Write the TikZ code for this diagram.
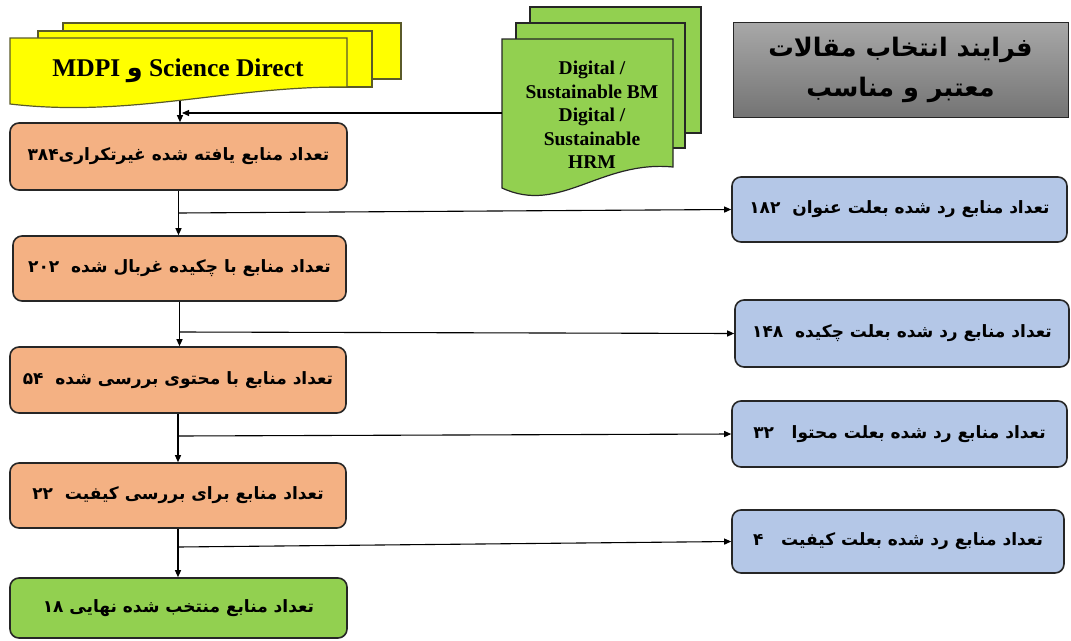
\documentclass[tikz,border=0pt]{standalone}
\usepackage{fontspec}
\setmainfont{Liberation Serif}
\newfontfamily\fa[Script=Arabic]{DejaVu Sans}
\TeXXeTstate=1
\usetikzlibrary{arrows.meta,calc}
\definecolor{orangebox}{HTML}{F4B183}
\definecolor{bluebox}{HTML}{B4C7E7}
\definecolor{greenbox}{HTML}{92D050}
\definecolor{yellowdoc}{HTML}{FFFF00}
\definecolor{edgecol}{HTML}{262626}
\definecolor{yedge}{HTML}{5A5A2A}
\definecolor{graytop}{HTML}{A8A8A8}
\definecolor{graybot}{HTML}{747474}
\newcommand{\fatxt}[1]{{\fa\bfseries\beginR #1\endR}}
\newcommand{\num}[1]{\beginL #1\endL}
\begin{document}
\begin{tikzpicture}[x=1pt,y=-1pt,
  box/.style={draw=edgecol, line width=1.6pt, rounded corners=9pt, inner sep=0pt,
    font=\fontsize{17}{20}\selectfont, align=center},
  stagebox/.style={box, fill=orangebox},
  rejbox/.style={box, fill=bluebox},
  finalbox/.style={box, fill=greenbox},
  arr/.style={line width=1.1pt, draw=black, -{Triangle[length=7pt,width=6pt]}},
  link/.style={line width=1.1pt, draw=black},
  ysheet/.style={fill=yellowdoc, draw=yedge, line width=1.2pt},
  gsheet/.style={fill=greenbox, draw=edgecol, line width=1.2pt},
]
\useasboundingbox (0,0) rectangle (1071,640);

% yellow multi-document
\path[ysheet] (63,23) rectangle (401,79);
\path[ysheet] (38,31) rectangle (372,87);
\path[ysheet] (10,38) -- (347,38) -- (347,87) .. controls (230,86) and (130,118) .. (10,104) -- cycle;
\node[font=\fontsize{25.5}{28}\selectfont\bfseries] (src) at (178,71) {MDPI {\fa و} Science Direct};

% green multi-document
\path[gsheet] (530,7) rectangle (701,133);
\path[gsheet] (516,23) rectangle (685,148);
\path[gsheet] (502,39) -- (673,39) -- (673,167) .. controls (600,160) and (560,215) .. (502,188) -- cycle;
\node[font=\fontsize{19.5}{23.5}\selectfont\bfseries, align=center] (kw) at (592,115)
  {Digital /\\Sustainable BM\\Digital /\\Sustainable\\HRM};

% title
\node[draw=edgecol, line width=1pt, top color=graytop, bottom color=graybot,
  minimum width=335pt, minimum height=95pt, inner sep=0pt, align=center,
  font=\fontsize{25.5}{40}\selectfont\bfseries] (title) at (900.5,69.5)
  {{\fa\beginR فرایند انتخاب مقالات\endR}\\{\fa\beginR معتبر و مناسب\endR}};

% main stages
\node[stagebox, minimum width=337pt, minimum height=67pt] (b1) at (178.5,156.5)
  {\fatxt{تعداد منابع یافته شده غیرتکراری\num{۳۸۴}}};
\node[stagebox, minimum width=333pt, minimum height=65pt] (b2) at (179.5,268.5)
  {\fatxt{تعداد منابع با چکیده غربال شده\ \ \num{۲۰۲}}};
\node[stagebox, minimum width=336pt, minimum height=66pt] (b3) at (178,380)
  {\fatxt{تعداد منابع با محتوی بررسی شده\ \ \num{۵۴}}};
\node[stagebox, minimum width=336pt, minimum height=65pt] (b4) at (178,495.5)
  {\fatxt{تعداد منابع برای بررسی کیفیت\ \ \num{۲۲}}};
\node[finalbox, minimum width=337pt, minimum height=60pt] (b5) at (178.5,608)
  {\fatxt{تعداد منابع منتخب شده نهایی \num{۱۸}}};

% rejected
\node[rejbox, minimum width=335pt, minimum height=65pt] (rA) at (899.5,209.5)
  {\fatxt{تعداد منابع رد شده بعلت عنوان\ \ \num{۱۸۲}}};
\node[rejbox, minimum width=334pt, minimum height=67pt] (rB) at (902,333.5)
  {\fatxt{تعداد منابع رد شده بعلت چکیده\ \ \num{۱۴۸}}};
\node[rejbox, minimum width=335pt, minimum height=66pt] (rC) at (899.5,434)
  {\fatxt{تعداد منابع رد شده بعلت محتوا\ \ \ \num{۳۲}}};
\node[rejbox, minimum width=332pt, minimum height=63pt] (rD) at (898,541.5)
  {\fatxt{تعداد منابع رد شده بعلت کیفیت\ \ \ \num{۴}}};

% connectors at top
\coordinate (gl) at (502,113);
\coordinate (ylink) at (182,113);
\coordinate (ybot) at (180,101);
\draw[arr] (gl) -- (ylink);
\draw[arr] (ybot) -- (ybot |- b1.north);

% vertical flow
\draw[arr] (b1.south) -- (b1.south |- b2.north);
\draw[arr] (b2.south) -- (b2.south |- b3.north);
\draw[arr] (b3.south) -- (b3.south |- b4.north);
\draw[arr] (b4.south) -- (b4.south |- b5.north);

% branches
\coordinate (j1) at (178.5,213);
\coordinate (j2) at (179.5,332);
\coordinate (j3) at (178,436);
\coordinate (j4) at (178,547);
\draw[arr] (j1) -- (rA.west);
\draw[arr] (j2) -- (rB.west);
\draw[arr] (j3) -- (rC.west);
\draw[arr] (j4) -- (rD.west);
\end{tikzpicture}
\end{document}
